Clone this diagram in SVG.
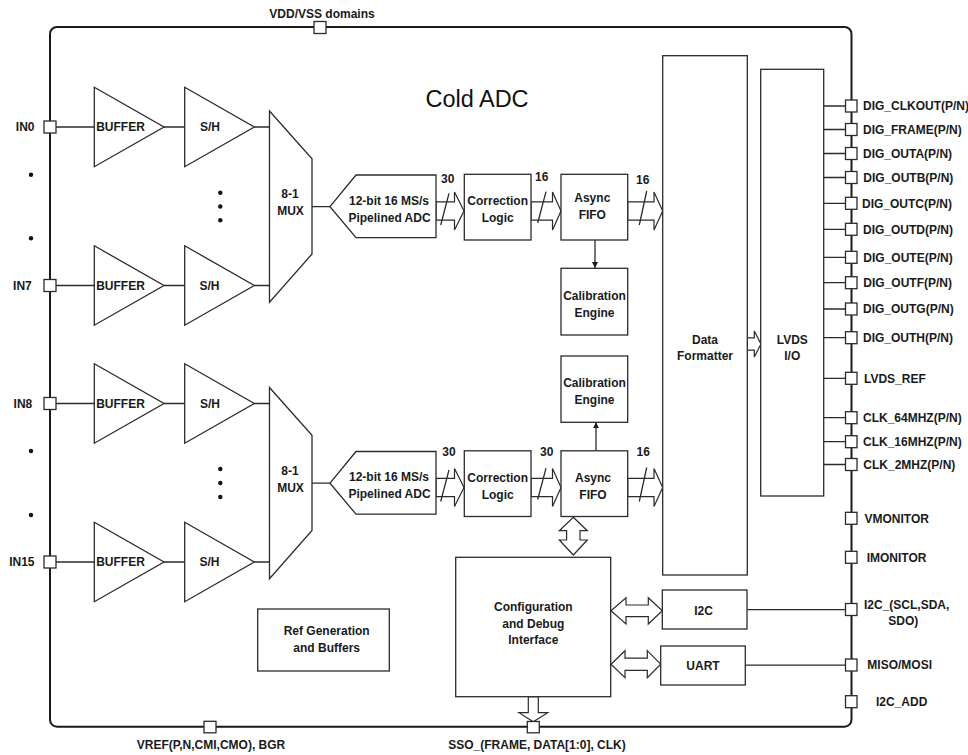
<svg xmlns="http://www.w3.org/2000/svg" width="968" height="755" viewBox="0 0 968 755">
<defs>
<style>
.frame{fill:none;stroke:#1a1a1a;stroke-width:2}
.box{fill:#fff;stroke:#2b2b2b;stroke-width:1.3}
.pin{fill:#fff;stroke:#2b2b2b;stroke-width:1.3}
.wire{fill:none;stroke:#2b2b2b;stroke-width:1.3}
.bus{fill:#fff;stroke:#2b2b2b;stroke-width:1.2;stroke-linejoin:miter}
.t{font-family:"Liberation Sans",Arial,sans-serif;font-weight:bold;font-size:12px;fill:#1a1a1a}
.m{text-anchor:middle}
.e{text-anchor:end}
.dot{fill:#111}
</style>
<marker id="ah" markerWidth="8" markerHeight="8" refX="6" refY="3" orient="auto" markerUnits="userSpaceOnUse">
<path d="M0,0 L6,3 L0,6 Z" fill="#1a1a1a"/>
</marker>
</defs>
<rect width="968" height="755" fill="#fff"/>

<g id="chip-frame">
<rect class="frame" x="50" y="27" width="801.5" height="699.7" rx="7"/>
<text x="477" y="106.7" font-family="Liberation Sans, Arial, sans-serif" font-size="23.5" fill="#111" text-anchor="middle">Cold ADC</text>
</g>

<g id="connectors">
<!-- input wires -->
<path class="wire" d="M56,127H94.3M164,127H184.7M254.3,127H269.5"/>
<path class="wire" d="M56,285.5H94.3M164,285.5H184.7M254.3,285.5H269.5"/>
<path class="wire" d="M56,403.5H94.3M164,403.5H184.7M254.3,403.5H269.5"/>
<path class="wire" d="M56,562H94.3M164,562H184.7M254.3,562H269.5"/>
<path class="wire" d="M312,206.7H330M312,483.2H330"/>
<!-- bus arrows upper -->
<polygon class="bus" points="436,201.8 454.5,201.8 454.5,192 464,211 454.5,230 454.5,220.2 436,220.2"/>
<polygon class="bus" points="531,201.8 552.5,201.8 552.5,192 561,211 552.5,230 552.5,220.2 531,220.2"/>
<polygon class="bus" points="627.7,201.8 654,201.8 654,192 662.7,211 654,230 654,220.2 627.7,220.2"/>
<path class="wire" d="M440.7,225L449,193.3M537.7,223L546,191.7M639.3,225L646.7,191"/>
<text class="t m" x="447.7" y="182.5">30</text>
<text class="t m" x="541.7" y="181">16</text>
<text class="t m" x="642.7" y="183.5">16</text>
<!-- bus arrows lower -->
<polygon class="bus" points="436,478.3 454.5,478.3 454.5,468.5 464,487.5 454.5,506.5 454.5,496.7 436,496.7"/>
<polygon class="bus" points="531,478.3 552.5,478.3 552.5,468.5 561,487.5 552.5,506.5 552.5,496.7 531,496.7"/>
<polygon class="bus" points="627.7,478.3 654,478.3 654,468.5 662.7,487.5 654,506.5 654,496.7 627.7,496.7"/>
<path class="wire" d="M440.7,501.5L449,469.8M537.7,499.5L546,468.2M639.3,501.5L646.7,467.5"/>
<text class="t m" x="449" y="455.5">30</text>
<text class="t m" x="546.7" y="455.5">30</text>
<text class="t m" x="643.3" y="455.5">16</text>
<!-- FIFO to calibration -->
<line class="wire" x1="595" y1="240" x2="595" y2="268" marker-end="url(#ah)"/>
<line class="wire" x1="596" y1="450.8" x2="596" y2="422.3" marker-end="url(#ah)"/>
<!-- formatter to LVDS -->
<polygon class="bus" points="747.3,337.8 754.3,337.8 754.3,331 761,344 754.3,357 754.3,350.2 747.3,350.2"/>
<!-- LVDS to pins -->
<path class="wire" d="M823.7,106H845.5M823.7,129.5H845.5M823.7,153.5H845.5M823.7,177.5H845.5M823.7,203.3H845.5M823.7,229.3H845.5M823.7,257.3H845.5M823.7,282.7H845.5M823.7,309H845.5M823.7,337.7H845.5M823.7,378.3H845.5M823.7,417.7H845.5M823.7,441.7H845.5M823.7,464.5H845.5"/>
<!-- FIFO <-> config -->
<polygon class="bus" points="573.3,517.3 587.3,530.7 580,530.7 580,540 587.3,540 573.3,555 559.3,540 566.6,540 566.6,530.7 559.3,530.7"/>
<!-- config <-> I2C / UART -->
<polygon class="bus" points="611,610.8 626,597.7 626,605 648.3,605 648.3,597.7 662.3,610.8 648.3,624 648.3,616.7 626,616.7 626,624"/>
<polygon class="bus" points="611,664.2 625,650.7 625,658.1 647.3,658.1 647.3,650.7 660.7,664.2 647.3,677.7 647.3,670.4 625,670.4 625,677.7"/>
<path class="wire" d="M747,609.7H845.5M745.3,665.2H845.5"/>
<!-- config to SSO -->
<polygon class="bus" points="528.3,696.7 538.3,696.7 538.3,712.7 547.7,712.7 533.3,721.7 519,712.7 528.3,712.7"/>
</g>

<g id="dots">
<circle class="dot" cx="31" cy="174.7" r="2.2"/>
<circle class="dot" cx="31" cy="238.3" r="2.2"/>
<circle class="dot" cx="31" cy="451" r="2.2"/>
<circle class="dot" cx="31" cy="515" r="2.2"/>
<circle class="dot" cx="220.3" cy="192.7" r="2.2"/>
<circle class="dot" cx="220.3" cy="206.5" r="2.2"/>
<circle class="dot" cx="220.3" cy="220.3" r="2.2"/>
<circle class="dot" cx="220.3" cy="469" r="2.2"/>
<circle class="dot" cx="220.3" cy="483" r="2.2"/>
<circle class="dot" cx="220.3" cy="497" r="2.2"/>
</g>

<!-- input pins -->
<g id="pin-in0"><rect class="pin" x="44" y="121" width="12" height="12"/><text class="t e" x="34.5" y="131.3">IN0</text></g>
<g id="pin-in7"><rect class="pin" x="44" y="279.5" width="12" height="12"/><text class="t e" x="31.8" y="289.8">IN7</text></g>
<g id="pin-in8"><rect class="pin" x="44" y="397.5" width="12" height="12"/><text class="t e" x="32.3" y="407.8">IN8</text></g>
<g id="pin-in15"><rect class="pin" x="44" y="556" width="12" height="12"/><text class="t e" x="34.5" y="566.3">IN15</text></g>

<!-- buffers and S/H -->
<g id="buffer-0"><polygon class="box" points="94.3,87.3 164,127 94.3,166.7"/><text class="t m" x="120.5" y="131.3">BUFFER</text></g>
<g id="sh-0"><polygon class="box" points="184.7,87.3 254.3,127 184.7,166.7"/><text class="t m" x="210" y="131.3">S/H</text></g>
<g id="buffer-7"><polygon class="box" points="94.3,245.8 164,285.5 94.3,325.2"/><text class="t m" x="120.5" y="289.8">BUFFER</text></g>
<g id="sh-7"><polygon class="box" points="184.7,245.8 254.3,285.5 184.7,325.2"/><text class="t m" x="209.5" y="289.8">S/H</text></g>
<g id="buffer-8"><polygon class="box" points="94.3,363.8 164,403.5 94.3,443.2"/><text class="t m" x="120.5" y="407.8">BUFFER</text></g>
<g id="sh-8"><polygon class="box" points="184.7,363.8 254.3,403.5 184.7,443.2"/><text class="t m" x="210" y="407.8">S/H</text></g>
<g id="buffer-15"><polygon class="box" points="94.3,522.3 164,562 94.3,601.7"/><text class="t m" x="120.5" y="566.3">BUFFER</text></g>
<g id="sh-15"><polygon class="box" points="184.7,522.3 254.3,562 184.7,601.7"/><text class="t m" x="209.5" y="566.3">S/H</text></g>

<!-- MUX -->
<g id="mux-a"><polygon class="box" points="269.5,111 312,158.7 312,254 269.5,302.3"/><text class="t m" x="290" y="198.3">8-1</text><text class="t m" x="290.5" y="215">MUX</text></g>
<g id="mux-b"><polygon class="box" points="269.5,387.5 312,435.2 312,530.5 269.5,578.8"/><text class="t m" x="290" y="474.8">8-1</text><text class="t m" x="290.5" y="491.5">MUX</text></g>

<!-- ADC -->
<g id="adc-a"><polygon class="box" points="330,206.7 356,175 436,175 436,237.7 356,237.7"/><text class="t m" x="389" y="205">12-bit 16 MS/s</text><text class="t m" x="389.5" y="221.5">Pipelined ADC</text></g>
<g id="adc-b"><polygon class="box" points="330,483.2 356,451.5 436,451.5 436,514.2 356,514.2"/><text class="t m" x="389" y="481.3">12-bit 16 MS/s</text><text class="t m" x="389.5" y="497.8">Pipelined ADC</text></g>

<!-- correction logic -->
<g id="corr-a"><rect class="box" x="464.3" y="174.3" width="66.7" height="65.7"/><text class="t m" x="497.7" y="205.3">Correction</text><text class="t m" x="497.7" y="222">Logic</text></g>
<g id="corr-b"><rect class="box" x="464.3" y="450.8" width="66.7" height="65.7"/><text class="t m" x="497.7" y="482">Correction</text><text class="t m" x="497.7" y="498.6">Logic</text></g>

<!-- async fifo -->
<g id="fifo-a"><rect class="box" x="561" y="174.3" width="66.7" height="65.7"/><text class="t m" x="592.3" y="202">Async</text><text class="t m" x="592.3" y="219.3">FIFO</text></g>
<g id="fifo-b"><rect class="box" x="561" y="450.8" width="66.7" height="65.7"/><text class="t m" x="593" y="482">Async</text><text class="t m" x="593" y="499.3">FIFO</text></g>

<!-- calibration -->
<g id="cal-a"><rect class="box" x="561" y="268.3" width="66.7" height="66.7"/><text class="t m" x="594.5" y="300">Calibration</text><text class="t m" x="594.5" y="317">Engine</text></g>
<g id="cal-b"><rect class="box" x="561" y="356" width="66.7" height="66.3"/><text class="t m" x="594.5" y="387">Calibration</text><text class="t m" x="594.5" y="404.3">Engine</text></g>

<!-- data formatter & LVDS -->
<g id="data-formatter"><rect class="box" x="662.7" y="55.7" width="84.6" height="519.3"/><text class="t m" x="705" y="344.3">Data</text><text class="t m" x="705" y="360">Formatter</text></g>
<g id="lvds-io"><rect class="box" x="760.7" y="69.3" width="63" height="426.7"/><text class="t m" x="792.3" y="344.3">LVDS</text><text class="t m" x="792.3" y="360">I/O</text></g>

<!-- config, I2C, UART, ref -->
<g id="config"><rect class="box" x="455.7" y="557.3" width="155" height="139.4"/><text class="t m" x="533.3" y="611">Configuration</text><text class="t m" x="533.3" y="627.6">and Debug</text><text class="t m" x="533.3" y="643.6">Interface</text></g>
<g id="i2c"><rect class="box" x="662.3" y="590" width="84.7" height="39"/><text class="t m" x="703.5" y="615">I2C</text></g>
<g id="uart"><rect class="box" x="660.7" y="646" width="84.6" height="39"/><text class="t m" x="703" y="670.3">UART</text></g>
<g id="ref-gen"><rect class="box" x="257.7" y="609" width="131.6" height="62"/><text class="t m" x="326.7" y="635">Ref Generation</text><text class="t m" x="326.7" y="652">and Buffers</text></g>

<!-- top / bottom pins -->
<g id="pin-vdd"><rect class="pin" x="314" y="21.5" width="12" height="12"/><text class="t m" x="322" y="18.3">VDD/VSS domains</text></g>
<g id="pin-vref"><rect class="pin" x="204" y="721.3" width="12" height="11.5"/><text class="t m" x="211" y="748.5">VREF(P,N,CMI,CMO), BGR</text></g>
<g id="pin-sso"><rect class="pin" x="527.3" y="721.5" width="12" height="11.3"/><text class="t m" x="537" y="748.5">SSO_(FRAME, DATA[1:0], CLK)</text></g>

<!-- right pins -->
<g id="pin-dig-clkout"><rect class="pin" x="845.5" y="100" width="11.5" height="12"/><text class="t" x="863" y="110.3">DIG_CLKOUT(P/N)</text></g>
<g id="pin-dig-frame"><rect class="pin" x="845.5" y="123.5" width="11.5" height="12"/><text class="t" x="863" y="133.8">DIG_FRAME(P/N)</text></g>
<g id="pin-dig-outa"><rect class="pin" x="845.5" y="147.5" width="11.5" height="12"/><text class="t" x="863" y="157.8">DIG_OUTA(P/N)</text></g>
<g id="pin-dig-outb"><rect class="pin" x="845.5" y="171.5" width="11.5" height="12"/><text class="t" x="863.3" y="181.8">DIG_OUTB(P/N)</text></g>
<g id="pin-dig-outc"><rect class="pin" x="845.5" y="197.3" width="11.5" height="12"/><text class="t" x="862" y="207.6">DIG_OUTC(P/N)</text></g>
<g id="pin-dig-outd"><rect class="pin" x="845.5" y="223.3" width="11.5" height="12"/><text class="t" x="863" y="233.6">DIG_OUTD(P/N)</text></g>
<g id="pin-dig-oute"><rect class="pin" x="845.5" y="251.3" width="11.5" height="12"/><text class="t" x="863.3" y="261.6">DIG_OUTE(P/N)</text></g>
<g id="pin-dig-outf"><rect class="pin" x="845.5" y="276.7" width="11.5" height="12"/><text class="t" x="863.3" y="287">DIG_OUTF(P/N)</text></g>
<g id="pin-dig-outg"><rect class="pin" x="845.5" y="303" width="11.5" height="12"/><text class="t" x="863" y="313.3">DIG_OUTG(P/N)</text></g>
<g id="pin-dig-outh"><rect class="pin" x="845.5" y="331.7" width="11.5" height="12"/><text class="t" x="863" y="342">DIG_OUTH(P/N)</text></g>
<g id="pin-lvds-ref"><rect class="pin" x="845.5" y="372.3" width="11.5" height="12"/><text class="t" x="864" y="382.6">LVDS_REF</text></g>
<g id="pin-clk64"><rect class="pin" x="845.5" y="411.7" width="11.5" height="12"/><text class="t" x="863" y="422">CLK_64MHZ(P/N)</text></g>
<g id="pin-clk16"><rect class="pin" x="845.5" y="435.7" width="11.5" height="12"/><text class="t" x="863" y="446">CLK_16MHZ(P/N)</text></g>
<g id="pin-clk2"><rect class="pin" x="845.5" y="458.5" width="11.5" height="12"/><text class="t" x="863.3" y="468.8">CLK_2MHZ(P/N)</text></g>
<g id="pin-vmonitor"><rect class="pin" x="845.5" y="512.3" width="11.5" height="12"/><text class="t" x="864.5" y="522.6">VMONITOR</text></g>
<g id="pin-imonitor"><rect class="pin" x="845.5" y="551.3" width="11.5" height="12"/><text class="t" x="866.7" y="561.6">IMONITOR</text></g>
<g id="pin-i2c"><rect class="pin" x="845.5" y="603.5" width="11.5" height="12"/><text class="t" x="864" y="608.6">I2C_(SCL,SDA,</text><text class="t m" x="903.3" y="625">SDO)</text></g>
<g id="pin-miso-mosi"><rect class="pin" x="845.5" y="659" width="11.5" height="12"/><text class="t" x="867.3" y="669.3">MISO/MOSI</text></g>
<g id="pin-i2c-add"><rect class="pin" x="845.5" y="695.7" width="11.5" height="12"/><text class="t" x="876" y="706">I2C_ADD</text></g>
</svg>
